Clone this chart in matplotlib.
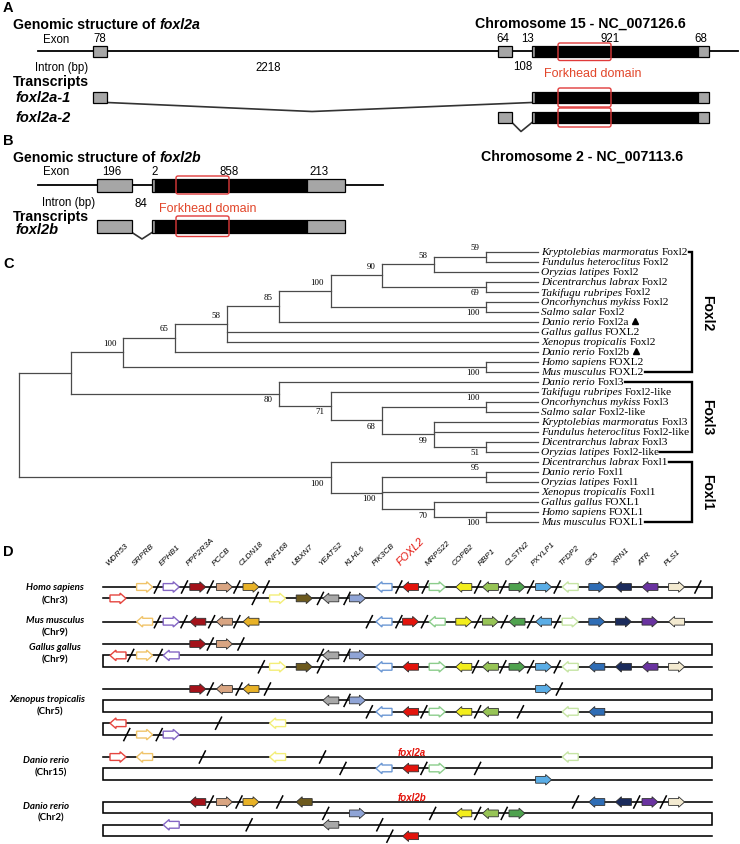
import matplotlib
matplotlib.use("Agg")
import matplotlib.pyplot as plt
from matplotlib.patches import Rectangle, FancyBboxPatch, Polygon

# ====================== DATA ======================
# Panel A / B : exon and intron sizes (bp)
foxl2a_exons = ["78", "64", "13", "921", "68"]
foxl2a_introns = ["2218", "108"]
foxl2b_exons = ["196", "2", "858", "213"]
foxl2b_introns = ["84"]
foxl2a_transcripts = ["foxl2a-1", "foxl2a-2"]
foxl2b_transcripts = ["foxl2b"]
chrom_a = "Chromosome 15 - NC_007126.6"
chrom_b = "Chromosome 2 - NC_007113.6"

# Panel C : tree leaves (species, gene)
tree_species = ["Kryptolebias marmoratus", "Fundulus heteroclitus", "Oryzias latipes",
                "Dicentrarchus labrax", "Takifugu rubripes", "Oncorhynchus mykiss",
                "Salmo salar", "Danio rerio", "Gallus gallus", "Xenopus tropicalis",
                "Danio rerio", "Homo sapiens", "Mus musculus",
                "Danio rerio", "Takifugu rubripes", "Oncorhynchus mykiss", "Salmo salar",
                "Kryptolebias marmoratus", "Fundulus heteroclitus", "Dicentrarchus labrax",
                "Oryzias latipes",
                "Dicentrarchus labrax", "Danio rerio", "Oryzias latipes", "Xenopus tropicalis",
                "Gallus gallus", "Homo sapiens", "Mus musculus"]
tree_genes = ["Foxl2", "Foxl2", "Foxl2", "Foxl2", "Foxl2", "Foxl2", "Foxl2", "Foxl2a",
              "FOXL2", "Foxl2", "Foxl2b", "FOXL2", "FOXL2",
              "Foxl3", "Foxl2-like", "Foxl3", "Foxl2-like", "Foxl3", "Foxl2-like", "Foxl3",
              "Foxl2-like",
              "Foxl1", "Foxl1", "Foxl1", "Foxl1", "FOXL1", "FOXL1", "FOXL1"]
tree_marked = [7, 10]


def N(*children, s=None):
    return {"children": list(children), "support": s}


# topology with bootstrap support values
nK = N(0, 1, s=59)
nI = N(nK, 2, s=58)
nJ = N(3, 4, s=69)
nG = N(nI, nJ, s=90)
nH = N(5, 6, s=100)
nF = N(nG, nH, s=100)
nE = N(nF, 7, s=85)
nD = N(nE, 8, 9, s=58)
nC = N(nD, 10, s=65)
nX = N(11, 12, s=100)
nB = N(nC, nX, s=100)
nHF3 = N(15, 16, s=100)
nR = N(19, 20, s=51)
nQ = N(17, 18, nR, s=99)
nP = N(nHF3, nQ, s=68)
nM = N(14, nP, s=71)
nL = N(13, nM, s=80)
nA = N(nB, nL)
nU = N(22, 23, s=95)
nW = N(26, 27, s=100)
nV = N(25, nW, s=70)
nT = N(nU, 24, nV, s=100)
nS = N(21, nT, s=100)
tree = N(nA, nS)
clade_names = ["Foxl2", "Foxl3", "Foxl1"]
clade_first = [0, 13, 21]
clade_last = [12, 20, 27]

# Panel D : genes of the synteny map
genes = ["WDR53", "SRPRB", "EPHB1", "PPP2R3A", "PCCB", "CLDN18", "RNF168", "UBXN7",
         "YEATS2", "KLHL6", "PIK3CB", "FOXL2", "MRPS22", "COPB2", "RBP1", "CLSTN2",
         "PXYLP1", "TFDP2", "GK5", "XRN1", "ATR", "PLS1"]
gene_colors = ["#e5453f", "#f0c46a", "#8466c4", "#a3121a", "#d9a582", "#e8b227",
               "#f3ee78", "#6d5a1e", "#a8a8a8", "#8fa4d6", "#6c98d4", "#e3140c",
               "#8ccd8c", "#f3ee1c", "#97c456", "#4fa24e", "#5aade6", "#c6e5a4",
               "#2f6db5", "#1b2b5c", "#6a33a0", "#f3ead0"]
gene_hollow = [True, True, True, False, False, False, True, False, False, False, True,
               False, True, False, False, False, False, True, False, False, False, False]

species_names = ["Homo sapiens", "Mus musculus", "Gallus gallus", "Xenopus tropicalis",
                 "Danio rerio", "Danio rerio"]
species_chr = ["(Chr3)", "(Chr9)", "(Chr9)", "(Chr5)", "(Chr15)", "(Chr2)"]
# rows of each chromosome: list of (gene index, direction) and slash positions (gene slots)
human_rows = [
    ([(1, 1), (2, 1), (3, 1), (4, 1), (5, 1), (10, -1), (11, -1), (12, 1), (13, -1),
      (14, -1), (15, 1), (16, 1), (17, -1), (18, 1), (19, -1), (20, -1), (21, 1)],
     [1.48, 2.5, 3.47, 4.47, 5.57, 10.56, 11.55, 13.52, 14.47, 15.51, 16.51, 21.8]),
    ([(0, 1), (6, 1), (7, 1), (8, -1), (9, 1)], [5.16, 7.61, 8.61]),
]
mouse_rows = [
    ([(1, -1), (2, 1), (3, -1), (4, -1), (5, -1), (10, -1), (11, 1), (12, -1), (13, 1),
      (14, 1), (15, -1), (16, -1), (17, 1), (18, 1), (19, 1), (20, 1), (21, -1)],
     [1.48, 2.48, 3.52, 4.47, 9.45, 10.56, 11.52, 13.52, 14.52, 15.51, 16.51]),
]
chicken_rows = [
    ([(3, 1), (4, 1)], [3.47, 4.62]),
    ([(0, -1), (1, 1), (2, -1), (8, -1), (9, 1)], [0.48, 1.55, 7.61, 8.61]),
    ([(6, 1), (7, 1), (10, -1), (11, -1), (12, 1), (13, -1), (14, -1), (15, 1), (16, 1),
      (17, -1), (18, -1), (19, -1), (20, -1), (21, 1)],
     [5.39, 7.61, 13.44, 14.47, 15.51, 16.51]),
]
xenopus_rows = [
    ([(3, 1), (4, -1), (5, -1), (16, 1)], [3.47, 4.55, 5.62, 16.59]),
    ([(8, -1), (9, 1)], [8.61]),
    ([(10, -1), (11, -1), (12, 1), (13, -1), (14, -1), (17, -1), (18, -1)],
     [9.45, 11.5, 13.52, 15.13]),
    ([(0, -1), (6, -1)], [3.78]),
    ([(1, 1), (2, 1)], [0.33, 1.55]),
]
zebrafish15_rows = [
    ([(0, 1), (1, -1), (6, -1), (17, -1)], [3.17, 7.69]),
    ([(10, -1), (11, -1), (12, 1)], [8.46, 11.5, 13.52]),
    ([(16, 1)], []),
]
zebrafish2_rows = [
    ([(3, -1), (4, 1), (5, 1), (7, -1), (18, -1), (19, -1), (20, 1), (21, 1)],
     [3.47, 4.55, 6.08, 17.2, 19.5, 20.5]),
    ([(9, 1), (13, -1), (14, -1), (15, 1)], [7.81, 11.83, 13.52, 14.52]),
    ([(2, -1), (8, -1)], [4.93, 9.84]),
    ([(11, -1)], [10.22]),
]
species_rows = [human_rows, mouse_rows, chicken_rows, xenopus_rows,
                zebrafish15_rows, zebrafish2_rows]
species_bends = [["R"], [], ["R", "L"], ["R", "L", "R", "L"], ["R", "L"], ["L", "R", "L"]]
paralog_tags = ["", "", "", "", "foxl2a", "foxl2b"]

# ====================== FIGURE ======================
W, H = 740, 845
fig = plt.figure(figsize=(W / 100, H / 100), dpi=100)
ax = fig.add_axes([0, 0, 1, 1])
ax.set_xlim(0, W)
ax.set_ylim(H, 0)
ax.axis("off")
renderer = fig.canvas.get_renderer()

SANS = "Liberation Sans"
SERIF = "Liberation Serif"
GREY = "#a6a6a6"
RED = "#e03a3a"
FK = "#e2462a"


def rich(x, y, parts, gap=0.27, **common):
    cur = x
    fs = 10
    for s, kw in parts:
        o = dict(common)
        o.update(kw)
        t = ax.text(cur, y, s, ha="left", va="center", **o)
        bb = t.get_window_extent(renderer=renderer)
        fs = o.get("fontsize", 10) * 100 / 72
        cur += bb.width + gap * fs
    return cur - gap * fs


def exon(x0, x1, y0, y1, fc):
    ax.add_patch(Rectangle((x0, y0), x1 - x0, y1 - y0, fc=fc, ec="black", lw=0.9, zorder=3))


def fkbox(x0, x1, y0, y1):
    ax.add_patch(FancyBboxPatch((x0, y0), x1 - x0, y1 - y0,
                                boxstyle="round,pad=0,rounding_size=2",
                                fc="none", ec=RED, lw=1.0, zorder=4))


def panel_letter(x, y, s):
    ax.text(x, y, s, fontsize=10.5, fontweight="bold", family=SANS, va="center", ha="left")


# ---------------- Panel A ----------------
panel_letter(3, 8, "A")
rich(13, 25, [("Genomic structure of", {"fontweight": "bold"}),
              ("foxl2a", {"fontweight": "bold", "style": "italic"})],
     family=SANS, fontsize=10.2)
ax.text(580, 24, chrom_a, ha="center", va="center", family=SANS, fontsize=10.2,
        fontweight="bold")
num = dict(family=SANS, fontsize=8.3, va="center", ha="center")
ax.text(43, 40, "Exon", **{**num, "ha": "left"})
for xx, s in zip([100, 503, 528, 610, 701], foxl2a_exons):
    ax.text(xx, 39.5, s, **num)
ax.text(35, 68, "Intron (bp)", **{**num, "ha": "left"})
for (xx, yy), s in zip([(268, 68), (523, 67)], foxl2a_introns):
    ax.text(xx, yy, s, **num)
ax.text(593, 74, "Forkhead domain", ha="center", va="center", family=SANS, fontsize=9,
        color=FK)
ax.plot([38, 738], [52, 52], color="black", lw=1.3, zorder=2)
exon(93, 107, 47, 57.5, GREY)
exon(498, 512, 47, 57.5, GREY)
exon(532, 535, 47, 57.5, GREY)
exon(535, 698, 47, 57.5, "black")
exon(698, 709, 47, 57.5, GREY)
fkbox(558, 611, 44, 61.5)

ax.text(13, 82, "Transcripts", family=SANS, fontsize=10.2, fontweight="bold", va="center")
tr_y = [(93, 104), (113, 124)]
for (y0, y1), name in zip(tr_y, foxl2a_transcripts):
    ax.text(15, (y0 + y1) / 2, name, family=SANS, fontsize=10.5, fontweight="bold",
            style="italic", va="center")
# foxl2a-1
y0, y1 = tr_y[0]
exon(93, 107, y0, y1, GREY)
ax.plot([107, 312, 532], [y1 - 0.5, 112.5, y1 - 0.5], color="#333333", lw=1.2, zorder=2)
exon(532, 535, y0, y1, GREY)
exon(535, 698, y0, y1, "black")
exon(698, 709, y0, y1, GREY)
fkbox(558, 611, y0 - 4, y1 + 4)
# foxl2a-2
y0, y1 = tr_y[1]
exon(498, 512, y0, y1, GREY)
ax.plot([512, 521, 532], [y1 - 0.5, 132.5, y1 - 0.5], color="#333333", lw=1.2, zorder=2)
exon(532, 535, y0, y1, GREY)
exon(535, 698, y0, y1, "black")
exon(698, 709, y0, y1, GREY)
fkbox(558, 611, y0 - 4, y1 + 4)

# ---------------- Panel B ----------------
panel_letter(3, 141, "B")
rich(13, 158, [("Genomic structure of", {"fontweight": "bold"}),
               ("foxl2b", {"fontweight": "bold", "style": "italic"})],
     family=SANS, fontsize=10.2)
ax.text(582, 157, chrom_b, ha="center", va="center", family=SANS, fontsize=10.2,
        fontweight="bold")
ax.text(43, 172, "Exon", **{**num, "ha": "left"})
for xx, s in zip([112, 155, 229, 319], foxl2b_exons):
    ax.text(xx, 172, s, **num)
ax.text(42, 203, "Intron (bp)", **{**num, "ha": "left"})
ax.text(141, 204, foxl2b_introns[0], **num)
ax.text(208, 209, "Forkhead domain", ha="center", va="center", family=SANS, fontsize=9,
        color=FK)
ax.plot([38, 383], [186, 186], color="black", lw=1.3, zorder=2)
exon(97, 132, 179.5, 192.5, GREY)
exon(152, 154.5, 179.5, 192.5, GREY)
exon(154.5, 307, 179.5, 192.5, "black")
exon(307, 345, 179.5, 192.5, GREY)
fkbox(176, 229, 177, 195)
ax.text(13, 217, "Transcripts", family=SANS, fontsize=10.2, fontweight="bold", va="center")
ax.text(15, 230, foxl2b_transcripts[0], family=SANS, fontsize=10.5, fontweight="bold",
        style="italic", va="center")
y0, y1 = 220.5, 234
exon(97, 132, y0, y1, GREY)
ax.plot([132, 142, 152], [y1 - 0.5, 240, y1 - 0.5], color="#333333", lw=1.2, zorder=2)
exon(152, 154.5, y0, y1, GREY)
exon(154.5, 307, y0, y1, "black")
exon(307, 345, y0, y1, GREY)
fkbox(176, 229, 217, 237.5)

# ---------------- Panel C ----------------
panel_letter(3, 264, "C")
X_LEAF, X_STEP = 538.0, 51.87
Y0_LEAF, DY_LEAF = 252.7, 9.995
BR = dict(color="#4a4a4a", lw=0.9, zorder=2, solid_capstyle="projecting")


def is_leaf(n):
    return isinstance(n, int)


def height(n):
    return 0 if is_leaf(n) else 1 + max(height(c) for c in n["children"])


def ypos(n):
    if is_leaf(n):
        return Y0_LEAF + n * DY_LEAF
    ys = [ypos(c) for c in n["children"]]
    return (ys[0] + ys[-1]) / 2


def xpos(n):
    return X_LEAF - height(n) * X_STEP


def draw_node(n):
    x = xpos(n)
    ys = [ypos(c) for c in n["children"]]
    ax.plot([x, x], [ys[0], ys[-1]], **BR)
    for i, c in enumerate(n["children"]):
        cx, cy = xpos(c), ypos(c)
        ax.plot([x, cx], [cy, cy], **BR)
        if not is_leaf(c):
            if c["support"] is not None:
                dy = -9.5 if i == 0 else 5.5
                ax.text(cx - 6.5, cy + dy, str(c["support"]), ha="right", va="center",
                        family=SERIF, fontsize=6.4)
            draw_node(c)


draw_node(tree)

label_end = []
for i, (sp, g) in enumerate(zip(tree_species, tree_genes)):
    y = Y0_LEAF + i * DY_LEAF
    parts = [(sp, {"style": "italic"}), (g, {})]
    end = rich(541, y, parts, gap=0.25, family=SERIF, fontsize=8.2)
    if i in tree_marked:
        ax.plot(end + 6.5, y - 0.5, marker="^", color="black", ms=5, zorder=3)
    label_end.append(end)

BRX = 692
for name, a, b in zip(clade_names, clade_first, clade_last):
    ya = Y0_LEAF + a * DY_LEAF
    yb = Y0_LEAF + b * DY_LEAF
    ax.plot([label_end[a] + 1, BRX, BRX, label_end[b] + 1], [ya, ya, yb, yb],
            color="black", lw=1.7, solid_joinstyle="miter", zorder=2)
    ax.text(707, (ya + yb) / 2, name, rotation=-90, ha="center", va="center",
            family=SANS, fontsize=10, fontweight="bold")

# ---------------- Panel D ----------------
panel_letter(3, 552, "D")
SLOT0, SLOT_DX = 118.0, 26.6
LX0, LX1 = 103, 712
row_tops = [588, 622.7, 645, 690, 758, 803]
ROW_DY = 11.4
label_x = [55, 55, 55, 47.5, 46, 46]
chr_x = [55, 54.5, 54.5, 50, 51, 51]


def slot_x(s):
    return SLOT0 + SLOT_DX * s


for gi, g in enumerate(genes):
    if g == "FOXL2":
        ax.text(slot_x(gi) - 9, 567, g, rotation=45, rotation_mode="anchor", ha="left",
                va="bottom", family=SANS, fontsize=7.8, style="italic", color="#e3140c")
    else:
        ax.text(slot_x(gi) - 8, 567, g, rotation=45, rotation_mode="anchor", ha="left",
                va="bottom", family=SANS, fontsize=5.9, style="italic")


def gene_arrow(xc, y, d, color, hollow):
    L, head, bh, hh = 16.0, 6.0, 3.4, 5.3
    tail, tip = xc - L / 2, xc + L / 2
    neck = tip - head
    pts = [(tail, y - bh), (neck, y - bh), (neck, y - hh), (tip, y), (neck, y + hh),
           (neck, y + bh), (tail, y + bh)]
    if d < 0:
        pts = [(2 * xc - px, py) for px, py in pts]
    if hollow:
        p = Polygon(pts, closed=True, fc="white", ec=color, lw=1.0, zorder=4,
                    joinstyle="miter")
    else:
        p = Polygon(pts, closed=True, fc=color, ec="#303030", lw=0.6, zorder=4,
                    joinstyle="miter")
    ax.add_patch(p)


for k in range(len(species_names)):
    top = row_tops[k]
    rows = species_rows[k]
    bends = species_bends[k]
    ys = [top + r * ROW_DY for r in range(len(rows))]
    # snake-shaped chromosome line
    side = LX1 if (bends and bends[0] == "L") else LX0
    px, py = [side], [ys[0]]
    for r in range(len(rows)):
        other = LX1 if side == LX0 else LX0
        px.append(other)
        py.append(ys[r])
        if r + 1 < len(rows):
            px.append(other)
            py.append(ys[r + 1])
        side = other
    ax.plot(px, py, color="black", lw=1.15, solid_joinstyle="miter", zorder=2)
    for r, (glist, slashes) in enumerate(rows):
        y = ys[r]
        for gi, d in glist:
            gene_arrow(slot_x(gi), y, d, gene_colors[gi], gene_hollow[gi])
        for s in slashes:
            xs = slot_x(s)
            ax.plot([xs - 3, xs + 3], [y + 6, y - 6], color="black", lw=1.1, zorder=5)
    if paralog_tags[k]:
        ax.text(slot_x(11) + 1, top - 4.5, paralog_tags[k], ha="center", va="center",
                family=SANS, fontsize=7, fontweight="bold", style="italic",
                color="#e3140c")

lab_y = [(588, 601), (621, 632.5), (648, 660), (700, 711.5), (761, 773), (806.5, 818)]
for k in range(len(species_names)):
    ya, yb = lab_y[k]
    ax.text(label_x[k], ya, species_names[k], ha="center", va="center", family="Lato",
            fontsize=7, fontweight="bold", style="italic")
    ax.text(chr_x[k], yb, species_chr[k], ha="center", va="center", family="Lato",
            fontsize=7, fontweight="bold")

fig.savefig("out.png", dpi=100)
